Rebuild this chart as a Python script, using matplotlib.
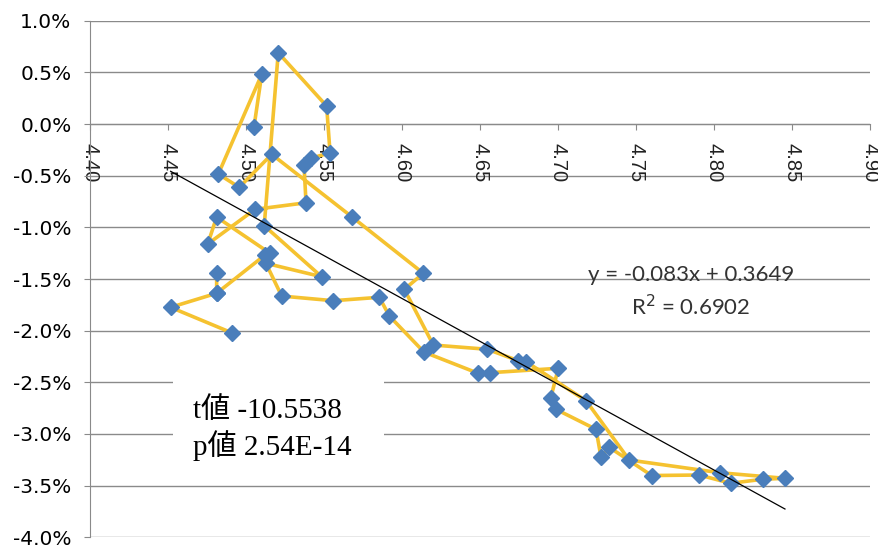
import matplotlib

matplotlib.use("Agg")
import matplotlib.pyplot as plt  # noqa: E402
import numpy as np  # noqa: E402
from matplotlib.patches import Rectangle  # noqa: E402
from matplotlib.ticker import FuncFormatter  # noqa: E402

nan = float("nan")

# points in series order (x = log index, y = return in %); nan = gap in the line
x_vals = [4.4906, 4.4515, 4.4810, nan,
          4.4810, 4.4810, 4.5120, 4.5152, 4.4810, 4.4753, 4.5056, 4.5383,
          4.5370, 4.5413, 4.5537, 4.5515, 4.5205, 4.5115, 4.5483, 4.5126, 4.5227, 4.5558,
          4.5853, 4.5917, 4.6139, 4.6487, 4.6562, 4.7000, 4.6951, 4.6985, 4.7242, 4.7274,
          4.7327, 4.7599, 4.7904, 4.8105, 4.8310, 4.8453, 4.8037, 4.7455, 4.7178, 4.6793,
          4.6744, 4.6545, 4.6199, 4.6013, 4.6135, 4.5676, 4.5163, 4.4955, 4.4821, 4.5099,
          4.5049]
y_vals = [-2.020, -1.774, -1.638, nan,
          -1.445, -1.638, -1.268, -1.251, -0.900, -1.161, -0.826, -0.762,
          -0.397, -0.332, -0.278, 0.174, 0.690, -0.984, -1.478, -1.348, -1.665, -1.710,
          -1.677, -1.858, -2.207, -2.413, -2.407, -2.364, -2.655, -2.761, -2.955, -3.226,
          -3.129, -3.402, -3.397, -3.477, -3.438, -3.429, -3.375, -3.252, -2.678, -2.300,
          -2.291, -2.180, -2.139, -1.600, -1.445, -0.897, -0.293, -0.613, -0.484, 0.481,
          -0.032]

fit_slope = -0.083
fit_intercept = 0.3649
eq_text = "y = -0.083x + 0.3649"
r2_text = "R$^2$ = 0.6902"
stat_lines = ["t値 -10.5538", "p値 2.54E-14"]

x_ticks = np.arange(4.40, 4.901, 0.05)
y_ticks = np.arange(-4.0, 1.01, 0.5)

fig = plt.figure(figsize=(8.79, 5.45), dpi=100)
ax = fig.add_axes([0.1027, 0.0141, 0.8874, 0.9479])
ax.set_xlim(4.40, 4.90)
ax.set_ylim(-4.0, 1.0)

grid_c = "#8a8a8a"
for yv in y_ticks:
    ax.axhline(yv, color=grid_c, lw=1.0, zorder=0)

for side in ("top", "right"):
    ax.spines[side].set_visible(False)
ax.spines["left"].set_color(grid_c)
ax.spines["bottom"].set_color(grid_c)
ax.spines["bottom"].set_position(("data", 0.0))

ax.set_xticks(x_ticks)
ax.set_yticks(y_ticks)
ax.xaxis.set_major_formatter(FuncFormatter(lambda v, _: f"{v:.2f}"))
ax.yaxis.set_major_formatter(FuncFormatter(lambda v, _: f"{v:.1f}%"))
ax.tick_params(axis="x", direction="out", length=4.5, color=grid_c, pad=9,
               labelsize=14.5, labelrotation=-90, labelcolor="#222222")
ax.tick_params(axis="y", direction="out", length=4.5, color=grid_c, pad=9,
               labelsize=14.5)
for lab in ax.get_xticklabels():
    lab.set_family("Liberation Sans")
for lab in ax.get_yticklabels():
    lab.set_family("DejaVu Sans")

ax.plot(x_vals, y_vals, color="#F5C230", lw=2.6, zorder=3,
        marker="D", markersize=8.5, markerfacecolor="#4A7EBB",
        markeredgecolor="#4A7EBB")

xs = np.array([np.nanmin(x_vals), np.nanmax(x_vals)])
ax.plot(xs, (fit_slope * xs + fit_intercept) * 100, color="black", lw=0.9, zorder=4)

ax.text(0.7697, 0.507, eq_text, transform=ax.transAxes, ha="center", va="center",
        fontsize=16, family="Lato", color="#333333", zorder=5)
ax.text(0.7697, 0.447, r2_text, transform=ax.transAxes, ha="center", va="center",
        fontsize=16, family="Lato", color="#333333", zorder=5)

ax.add_patch(Rectangle((0.106, 0.13), 0.27, 0.203, transform=ax.transAxes,
                       facecolor="white", edgecolor="none", zorder=6))
ax.text(0.132, 0.2456, stat_lines[0], transform=ax.transAxes, ha="left", va="center",
        fontsize=21, family=["Liberation Serif", "Noto Sans CJK JP"], zorder=7)
ax.text(0.132, 0.178, stat_lines[1], transform=ax.transAxes, ha="left", va="center",
        fontsize=21, family=["Liberation Serif", "Noto Sans CJK JP"], zorder=7)

fig.savefig("out.png", dpi=100)
